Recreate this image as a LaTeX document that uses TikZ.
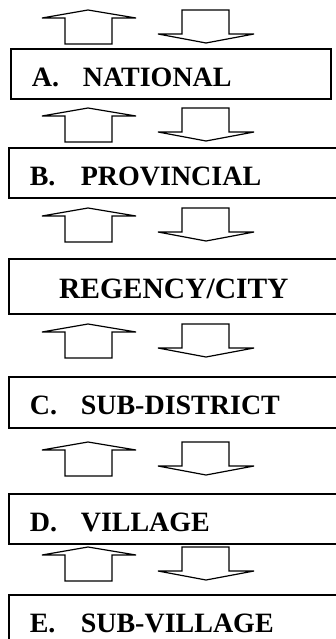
\documentclass[tikz,border=0pt]{standalone}
\usepackage{fontspec}
\setmainfont{Liberation Serif}
\usepackage{tikz}

\tikzset{
  level/.style = {draw, line width = 1.6pt, anchor = north west, minimum height = 50pt,
                  inner xsep = 0pt, text height = 25pt, text depth = 0pt,
                  font = \fontsize{28}{30}\selectfont\bfseries},
  blockarrow/.style = {draw, line width = 1.2pt, line join = miter}
}
\newcommand{\lvl}[2]{\makebox[51pt][l]{#1}#2}

\begin{document}
\begin{tikzpicture}[x = 1pt, y = -1pt]
              \clip (0,0) rectangle (336,639);
              \fill [white] (0,0) rectangle (336,639);
              % levels
              \node [level, minimum width = 320pt, text width = 278pt] (national) at (10,48) {\lvl{A.}{NATIONAL}};
              \node [level, minimum width = 340pt, text width = 298pt] (provincial) at (8,147) {\lvl{B.}{PROVINCIAL}};
              \node [level, minimum width = 330pt, minimum height = 55pt, text width = 330pt, align = center,
                     font = \fontsize{29.5}{31}\selectfont\bfseries] (regency) at (8,258) {REGENCY/CITY};
              \node [level, minimum width = 340pt, minimum height = 51pt, text width = 298pt] (subdistrict) at (8,376) {\lvl{C.}{SUB-DISTRICT}};
              \node [level, minimum width = 340pt, text width = 298pt] (village) at (8,493) {\lvl{D.}{VILLAGE}};
              \node [level, minimum width = 340pt, text width = 298pt] (subvillage) at (8,594) {\lvl{E.}{SUB-VILLAGE}};
              % up and down arrows
              \foreach \t in {10, 108, 208, 324, 442, 547}
              {\draw [blockarrow] (88,\t) -- (136,\t+8) -- (112,\t+8) -- (112,\t+34) -- (65,\t+34) -- (65,\t+8) -- (42,\t+8) -- cycle;
              \draw [blockarrow] (182,\t) -- (229,\t) -- (229,\t+24) -- (254,\t+24) -- (206,\t+33) -- (158,\t+24) -- (182,\t+24) -- cycle;}
            \end{tikzpicture}
\end{document}
